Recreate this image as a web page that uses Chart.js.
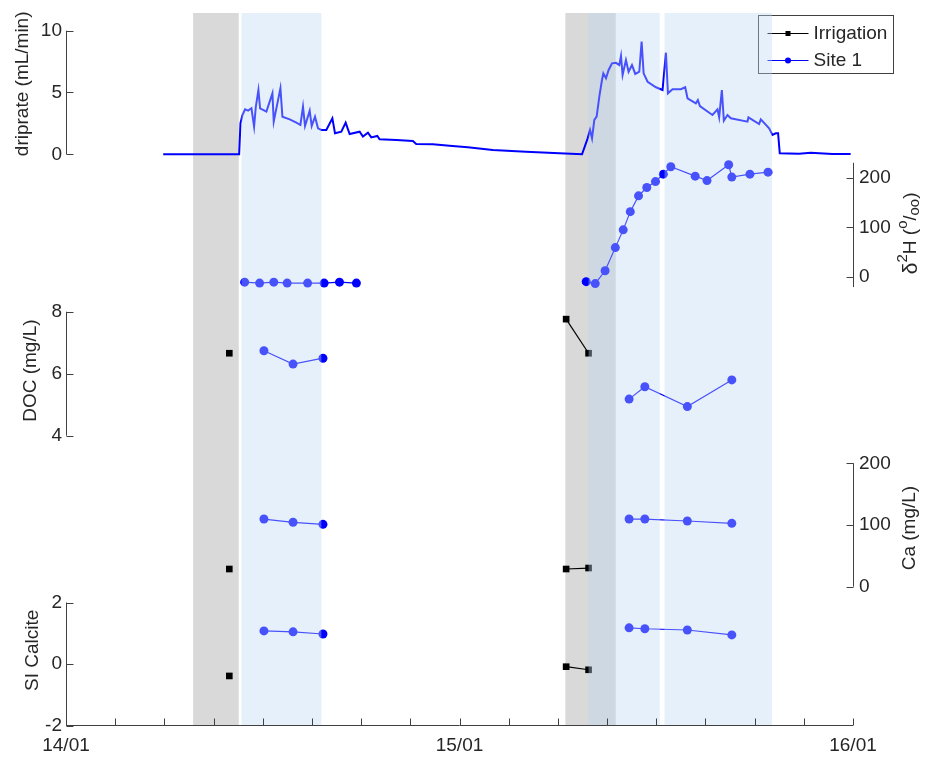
<!DOCTYPE html>
<html>
<head>
<meta charset="utf-8">
<script src="https://cdn.jsdelivr.net/npm/chart.js@4.4.1/dist/chart.umd.min.js"></script>
<style>
  html, body { margin: 0; padding: 0; background: #fff; }
  #wrap { width: 932px; height: 759px; position: relative; }
</style>
</head>
<body>
<div id="wrap"><canvas id="chart"></canvas></div>
<script>
// ─── Data (time in days from 14/01 00:00) ──────────────────────────────

const dayLabels = ['14/01', '15/01', '16/01'];
const xTickValues = [0, 0.125, 0.25, 0.375, 0.5, 0.625, 0.75, 0.875, 1,
  1.125, 1.25, 1.375, 1.5, 1.625, 1.75, 1.875, 2];

const legendNames = ['Irrigation', 'Site 1'];

const dripTime = [0.247, 0.440, 0.4434, 0.4484, 0.4551, 0.4628, 0.4713, 0.478, 0.4822, 0.489,
  0.4932, 0.5093, 0.5246, 0.5279, 0.533, 0.5449, 0.55, 0.5685, 0.5855, 0.5957,
  0.6023, 0.6074, 0.6193, 0.6244, 0.6328, 0.6404, 0.649, 0.6616, 0.6769, 0.6836,
  0.6997, 0.7107, 0.7208, 0.7462, 0.7546, 0.7673, 0.7758, 0.7911, 0.797, 0.8393,
  0.8815, 0.89, 0.9323, 0.9746, 1.021, 1.0846, 1.169, 1.2538, 1.3114, 1.3257,
  1.3317, 1.3368, 1.3426, 1.3485, 1.3553, 1.3621, 1.3655, 1.3723, 1.379, 1.3875,
  1.3977, 1.4061, 1.4104, 1.4145, 1.423, 1.4297, 1.4383, 1.4467, 1.4569, 1.4628,
  1.4679, 1.478, 1.4992, 1.516, 1.5246, 1.5297, 1.5414, 1.5626, 1.5736, 1.5795,
  1.6007, 1.6058, 1.6109, 1.6429, 1.6556, 1.6599, 1.6667, 1.6718, 1.681, 1.6895,
  1.7318, 1.7343, 1.7614, 1.7657, 1.7868, 1.7953, 1.8037, 1.8096, 1.8139, 1.863,
  1.8926, 1.9475, 1.994];
const dripRate = [0, 0, 2.51, 3.18, 3.64, 3.53, 3.72, 2.23, 3.8, 5.2,
  3.72, 3.45, 4.93, 2.64, 3.45, 5.34, 3.04, 2.83, 2.56, 2.37,
  3.85, 2.29, 3.53, 2.29, 3.04, 2.1, 1.97, 1.97, 2.91, 1.7,
  1.83, 2.56, 1.64, 1.83, 1.43, 1.75, 1.37, 1.48, 1.21, 1.16,
  1.08, 0.83, 0.81, 0.70, 0.56, 0.35, 0.21, 0.08, 0.0, 1.29,
  1.97, 1.29, 2.78, 3.04, 4.66, 6.01, 6.55, 6.15, 6.82, 7.36,
  7.4, 7.22, 7.95, 6.42, 7.63, 6.68, 7.22, 6.5, 6.68, 9.11,
  6.55, 5.87, 5.42, 5.2, 8.22, 4.93, 5.26, 5.26, 5.42, 4.53,
  4.12, 4.39, 3.9, 3.18, 3.64, 2.99, 5.2, 2.72, 3.18, 2.91,
  2.64, 2.99, 2.45, 2.83, 2.1, 1.56, 1.7, 1.7, 0.08, 0.05,
  0.13, 0.03, 0.03];

// δ2H, Site 1 (null = break between events)
const h2Time = [0.454, 0.492, 0.528, 0.562, 0.614, 0.656, 0.695, 0.738, 1.0,
  1.322, 1.345, 1.370, 1.396, 1.416, 1.434, 1.455, 1.476, 1.498, 1.518, 1.537,
  1.599, 1.629, 1.684, 1.692, 1.738, 1.784];
const h2Site = [-11, -13, -11, -13, -13, -13, -11, -13, null,
  -10, -14, 12, 59, 95, 132, 164, 181, 193, 208, 223,
  204, 195, 227, 202, 208, 212];

// Irrigation samples
const irrTime = [0.415, 1.0, 1.271, 1.328];
const docIrr = [6.66, null, 7.76, 6.66];
const caIrr = [28.7, null, 28.7, 30.3];
const siIrr = [-0.38, null, -0.08, -0.18];

// Site 1 samples
const siteTime = [0.503, 0.577, 0.653, 1.0, 1.431, 1.471, 1.579, 1.692];
const docSite = [6.74, 6.31, 6.50, null, 5.18, 5.58, 4.94, 5.80];
const caSite = [109.7, 104.4, 101.1, null, 109.7, 109.7, 106.5, 102.7];
const siSite = [1.08, 1.05, 0.98, null, 1.18, 1.15, 1.11, 0.95];

// Shaded periods [start, end] in days
const grayPeriods = [[0.323, 0.439], [1.269, 1.397]];
const bluePeriods = [[0.446, 0.649], [1.328, 1.509], [1.521, 1.794]];

// Tick values for each panel
const dripTicks = [0, 5, 10];
const h2Ticks = [0, 100, 200];
const docTicks = [4, 6, 8];
const caTicks = [0, 100, 200];
const siTicks = [-2, 0, 2];

// ─── Style ─────────────────────────────────────────────────────────────

const FONT = "'Liberation Sans', Arial, Helvetica, sans-serif";
const FONT_SIZE = 19;
const TEXT_COLOR = '#262626';
const AXIS_COLOR = '#404040';
const TICK_LEN = 7;
const SITE_COLOR = '#0000ff';
const IRR_COLOR = '#000000';
const GRAY_FILL = '#d9d9d9';
const BLUE_FILL = 'rgba(190, 215, 245, 0.38)';

// visible axis line span, title position for every panel axis
const axisSpecs = {
  yDrip: { side: 'left', span: [0, 10], ticks: dripTicks, title: 'driprate (mL/min)', titleX: 23, titleAt: 5.7 },
  yH: { side: 'right', span: [-21, 231], ticks: h2Ticks, title: null, titleX: 911, titleAt: 88 },
  yDOC: { side: 'left', span: [4, 8], ticks: docTicks, title: 'DOC (mg/L)', titleX: 31, titleAt: 6.1 },
  yCa: { side: 'right', span: [0, 200], ticks: caTicks, title: 'Ca (mg/L)', titleX: 910, titleAt: 95 },
  ySI: { side: 'left', span: [-2, 2], ticks: siTicks, title: 'SI Calcite', titleX: 33, titleAt: 0.45 },
};

// ─── Helpers ───────────────────────────────────────────────────────────

function pts(xs, ys) {
  return xs.map((x, i) => ({ x, y: ys[i] }));
}

function panelScale(id, min, max) {
  const spec = axisSpecs[id];
  return {
    type: 'linear',
    position: spec.side,
    min, max,
    afterBuildTicks: s => { s.ticks = spec.ticks.map(v => ({ value: v })); },
    afterFit: s => {
      s.width = 0;
      s.paddingTop = s.paddingBottom = s.paddingLeft = s.paddingRight = 0;
    },
    grid: { display: false, drawTicks: false },
    border: { display: false },
    ticks: {
      color: TEXT_COLOR,
      font: { family: FONT, size: FONT_SIZE },
      padding: spec.side === 'left' ? 4 : 6,
    },
  };
}

function siteSet(label, xs, ys, axis) {
  return {
    label, data: pts(xs, ys), yAxisID: axis,
    borderColor: SITE_COLOR, backgroundColor: SITE_COLOR,
    borderWidth: 1.2, pointRadius: 4.5, pointStyle: 'circle',
    pointBorderWidth: 0, spanGaps: false,
  };
}

function irrSet(label, xs, ys, axis) {
  return {
    label, data: pts(xs, ys), yAxisID: axis,
    borderColor: IRR_COLOR, backgroundColor: IRR_COLOR,
    borderWidth: 1.2, pointRadius: 4.7, pointStyle: 'rect',
    pointBorderWidth: 0, spanGaps: false,
  };
}

function fillPeriods(chart, periods, color) {
  const { ctx, chartArea: a } = chart;
  const xs = chart.scales.x;
  ctx.save();
  ctx.fillStyle = color;
  for (const [t0, t1] of periods) {
    const x0 = xs.getPixelForValue(t0);
    const x1 = xs.getPixelForValue(t1);
    ctx.fillRect(x0, a.top, x1 - x0, a.bottom - a.top);
  }
  ctx.restore();
}

function drawLegend(chart) {
  const { ctx, chartArea: a } = chart;
  const x0 = Math.round(a.right - 95) + 0.5;
  const y0 = Math.round(a.top + 2) + 0.5;
  const w = 135, h = 58;
  const colors = [IRR_COLOR, SITE_COLOR];
  ctx.save();
  ctx.fillStyle = '#ffffff';
  ctx.fillRect(x0, y0, w, h);
  ctx.strokeStyle = AXIS_COLOR;
  ctx.lineWidth = 1;
  ctx.strokeRect(x0, y0, w, h);
  ctx.font = `${FONT_SIZE}px ${FONT}`;
  ctx.textBaseline = 'middle';
  legendNames.forEach((name, i) => {
    const y = Math.round(y0 + 17 + i * 27);
    ctx.strokeStyle = colors[i];
    ctx.lineWidth = 1;
    ctx.beginPath();
    ctx.moveTo(x0 + 9, y + 0.5);
    ctx.lineTo(x0 + 50, y + 0.5);
    ctx.stroke();
    ctx.fillStyle = colors[i];
    ctx.beginPath();
    if (i === 0) ctx.rect(x0 + 27, y - 2, 5, 5);
    else ctx.arc(x0 + 29.5, y + 0.5, 3, 0, Math.PI * 2);
    ctx.fill();
    ctx.fillStyle = TEXT_COLOR;
    ctx.fillText(name, x0 + 55, y + 1);
  });
  ctx.restore();
}

function drawH2Title(ctx, cx, cy) {
  const parts = [
    { t: 'δ', s: 21, dy: 0 },
    { t: '2', s: 15, dy: -8 },
    { t: 'H (', s: FONT_SIZE, dy: 0 },
    { t: 'o', s: 15, dy: -8 },
    { t: '/', s: 18, dy: 0 },
    { t: 'oo', s: 15, dy: 4 },
    { t: ')', s: FONT_SIZE, dy: 0 },
  ];
  let total = 0;
  for (const p of parts) {
    ctx.font = `${p.s}px ${FONT}`;
    p.w = ctx.measureText(p.t).width;
    total += p.w;
  }
  ctx.save();
  ctx.translate(cx, cy);
  ctx.rotate(-Math.PI / 2);
  ctx.textAlign = 'left';
  ctx.textBaseline = 'middle';
  let x = -total / 2;
  for (const p of parts) {
    ctx.font = `${p.s}px ${FONT}`;
    ctx.fillText(p.t, x, p.dy);
    x += p.w;
  }
  ctx.restore();
}

// ─── Plugin: shading, legend and MATLAB-style axes ──────────────────────

const panelPlugin = {
  id: 'panels',
  afterLayout(chart) {
    // stretch the zero-width panel axes so their labels are not clipped
    const a = chart.chartArea;
    for (const id of Object.keys(axisSpecs)) {
      const s = chart.scales[id];
      if (axisSpecs[id].side === 'left') {
        s.left = 0;
        s.right = a.left;
      } else {
        s.left = a.right;
        s.right = chart.width;
      }
      s.width = s.right - s.left;
    }
  },
  beforeDatasetsDraw(chart) {
    fillPeriods(chart, grayPeriods, GRAY_FILL);
  },
  afterDatasetsDraw(chart) {
    drawLegend(chart);
    fillPeriods(chart, bluePeriods, BLUE_FILL);
  },
  afterDraw(chart) {
    const { ctx, chartArea: a } = chart;
    ctx.save();
    ctx.strokeStyle = AXIS_COLOR;
    ctx.lineWidth = 1;
    ctx.fillStyle = TEXT_COLOR;

    for (const id of Object.keys(axisSpecs)) {
      const spec = axisSpecs[id];
      const s = chart.scales[id];
      const left = spec.side === 'left';
      const x = Math.round(left ? a.left : a.right) + 0.5;
      const dir = left ? 1 : -1;
      ctx.beginPath();
      ctx.moveTo(x, s.getPixelForValue(spec.span[0]));
      ctx.lineTo(x, s.getPixelForValue(spec.span[1]));
      for (const t of s.ticks) {
        const y = Math.round(s.getPixelForValue(t.value)) + 0.5;
        ctx.moveTo(x, y);
        ctx.lineTo(x + dir * TICK_LEN, y);
      }
      ctx.stroke();

      const cy = s.getPixelForValue(spec.titleAt);
      if (spec.title) {
        ctx.save();
        ctx.translate(spec.titleX, cy);
        ctx.rotate(-Math.PI / 2);
        ctx.textAlign = 'center';
        ctx.textBaseline = 'middle';
        ctx.font = `${FONT_SIZE}px ${FONT}`;
        ctx.fillText(spec.title, 0, 0);
        ctx.restore();
      } else {
        drawH2Title(ctx, spec.titleX, cy);
      }
    }

    // time axis
    const xs = chart.scales.x;
    const yb = Math.round(a.bottom) + 0.5;
    ctx.beginPath();
    ctx.moveTo(a.left, yb);
    ctx.lineTo(a.right, yb);
    for (const t of xs.ticks) {
      const px = Math.round(xs.getPixelForValue(t.value)) + 0.5;
      ctx.moveTo(px, yb);
      ctx.lineTo(px, yb - TICK_LEN);
    }
    ctx.stroke();
    ctx.restore();
  },
};

// ─── Chart ─────────────────────────────────────────────────────────────

new Chart(document.getElementById('chart').getContext('2d'), {
  type: 'line',
  data: {
    datasets: [
      {
        label: 'Site 1 driprate', data: pts(dripTime, dripRate), yAxisID: 'yDrip',
        borderColor: SITE_COLOR, borderWidth: 2, pointRadius: 0, tension: 0,
      },
      siteSet('Site 1 δ2H', h2Time, h2Site, 'yH'),
      irrSet('Irrigation DOC', irrTime, docIrr, 'yDOC'),
      siteSet('Site 1 DOC', siteTime, docSite, 'yDOC'),
      irrSet('Irrigation Ca', irrTime, caIrr, 'yCa'),
      siteSet('Site 1 Ca', siteTime, caSite, 'yCa'),
      irrSet('Irrigation SI', irrTime, siIrr, 'ySI'),
      siteSet('Site 1 SI', siteTime, siSite, 'ySI'),
    ],
  },
  options: {
    responsive: true,
    maintainAspectRatio: false,
    animation: false,
    layout: { autoPadding: false, padding: { left: 66, right: 79, top: 13, bottom: 0 } },
    plugins: {
      legend: { display: false },
      tooltip: { enabled: false },
    },
    scales: {
      x: {
        type: 'linear',
        min: 0, max: 2,
        afterBuildTicks: s => { s.ticks = xTickValues.map(v => ({ value: v })); },
        afterFit: s => {
          s.height = 34;
          s.paddingTop = s.paddingBottom = s.paddingLeft = s.paddingRight = 0;
        },
        grid: { display: false, drawTicks: false },
        border: { display: false },
        ticks: {
          autoSkip: false,
          maxRotation: 0,
          padding: 9,
          color: TEXT_COLOR,
          font: { family: FONT, size: FONT_SIZE },
          callback: v => (Number.isInteger(v) ? dayLabels[v] : ''),
        },
      },
      yDrip: panelScale('yDrip', -46.17, 11.43),
      yH: panelScale('yH', -909.3, 534.9),
      yDOC: panelScale('yDOC', -5.332, 17.635),
      yCa: panelScale('yCa', -224.1, 929.8),
      ySI: panelScale('ySI', -1.97, 21.11),
    },
  },
  plugins: [panelPlugin],
});
</script>
</body>
</html>
